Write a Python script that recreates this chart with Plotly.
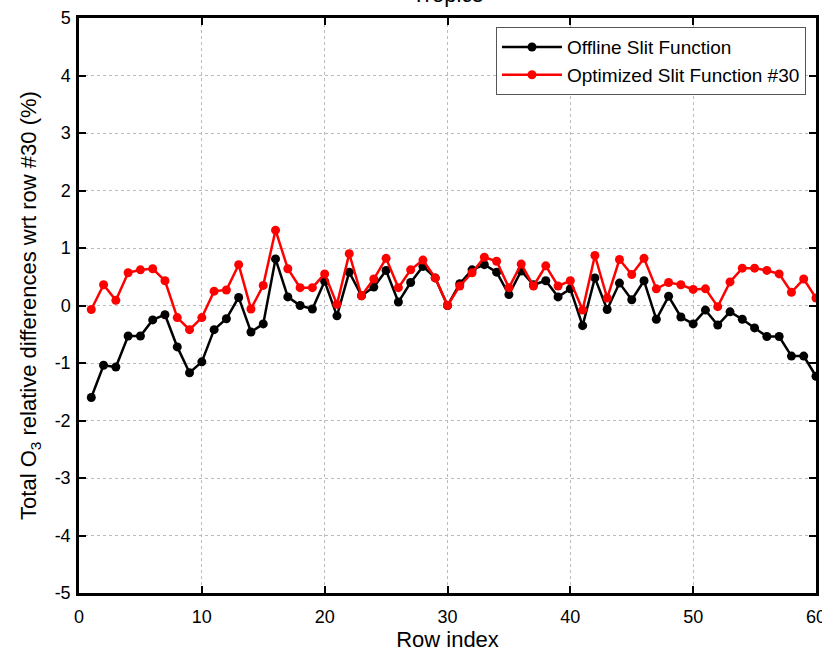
import plotly.graph_objects as go

rows = list(range(1, 61))
offline = [-1.60, -1.04, -1.07, -0.53, -0.53, -0.25, -0.16, -0.72, -1.17, -0.98,
           -0.42, -0.23, 0.14, -0.46, -0.32, 0.81, 0.15, 0.00, -0.06, 0.42,
           -0.18, 0.58, 0.17, 0.32, 0.61, 0.06, 0.40, 0.68, 0.48, 0.00,
           0.38, 0.62, 0.71, 0.58, 0.19, 0.60, 0.36, 0.43, 0.15, 0.29,
           -0.35, 0.48, -0.07, 0.39, 0.10, 0.43, -0.24, 0.16, -0.20, -0.32,
           -0.08, -0.34, -0.11, -0.24, -0.39, -0.54, -0.54, -0.88, -0.88, -1.23]
optimized = [-0.07, 0.36, 0.09, 0.57, 0.62, 0.64, 0.43, -0.21, -0.42, -0.21,
             0.25, 0.27, 0.71, -0.06, 0.35, 1.31, 0.64, 0.31, 0.31, 0.55,
             0.02, 0.90, 0.17, 0.46, 0.82, 0.31, 0.62, 0.79, 0.48, 0.00,
             0.34, 0.57, 0.84, 0.77, 0.31, 0.72, 0.34, 0.69, 0.34, 0.43,
             -0.08, 0.87, 0.13, 0.80, 0.54, 0.82, 0.29, 0.40, 0.36, 0.28,
             0.29, -0.02, 0.41, 0.65, 0.65, 0.61, 0.55, 0.23, 0.46, 0.13]

xticks = [0, 10, 20, 30, 40, 50, 60]
yticks = [5, 4, 3, 2, 1, 0, -1, -2, -3, -4, -5]
yticklabels = [str(v) if v >= 0 else "-" + str(-v) for v in yticks]

font = "Liberation Sans, Arial, sans-serif"

fig = go.Figure()
fig.add_trace(go.Scatter(x=rows, y=offline, mode="lines+markers", name="Offline Slit Function",
                         line=dict(color="black", width=2.5),
                         marker=dict(color="black", size=9)))
fig.add_trace(go.Scatter(x=rows, y=optimized, mode="lines+markers", name="Optimized Slit Function #30",
                         line=dict(color="#ff0000", width=2.5),
                         marker=dict(color="#ff0000", size=9)))

axis_common = dict(showline=True, linecolor="black", linewidth=2.5, mirror="allticks",
                   ticks="inside", ticklen=7, tickwidth=2, tickcolor="black",
                   showgrid=True, gridcolor="#bbbbbb", griddash="dot", gridwidth=1,
                   zeroline=False, ticklabeloverflow="allow", automargin=False,
                   tickfont=dict(family=font, size=18, color="black"))

fig.update_xaxes(range=[0, 60], tickvals=xticks, ticktext=[str(v) for v in xticks],
                 ticklabelstandoff=6,
                 title=dict(text="Row index", font=dict(family=font, size=22, color="black"), standoff=2),
                 **axis_common)
fig.update_yaxes(range=[-5, 5], tickvals=yticks, ticktext=yticklabels,
                 ticklabelstandoff=2,
                 title=dict(text="Total O<sub>3</sub> relative differences wrt row #30 (%)",
                            font=dict(family=font, size=22, color="black"), standoff=12),
                 **axis_common)

fig.add_annotation(text="Tropics", xref="paper", yref="paper", x=0.5, y=1, yanchor="bottom",
                   yshift=9, showarrow=False, font=dict(family=font, size=22, color="black"))

fig.update_layout(width=822, height=653, margin=dict(l=79, r=6, t=18, b=60),
                  paper_bgcolor="white", plot_bgcolor="white",
                  font=dict(family=font, color="black"),
                  legend=dict(x=0.9864, y=0.984, xanchor="right", yanchor="top",
                              bgcolor="white", bordercolor="#555555", borderwidth=1,
                              font=dict(family=font, size=19, color="black"),
                              tracegroupgap=0, itemwidth=60))

fig.write_html("out.html")
